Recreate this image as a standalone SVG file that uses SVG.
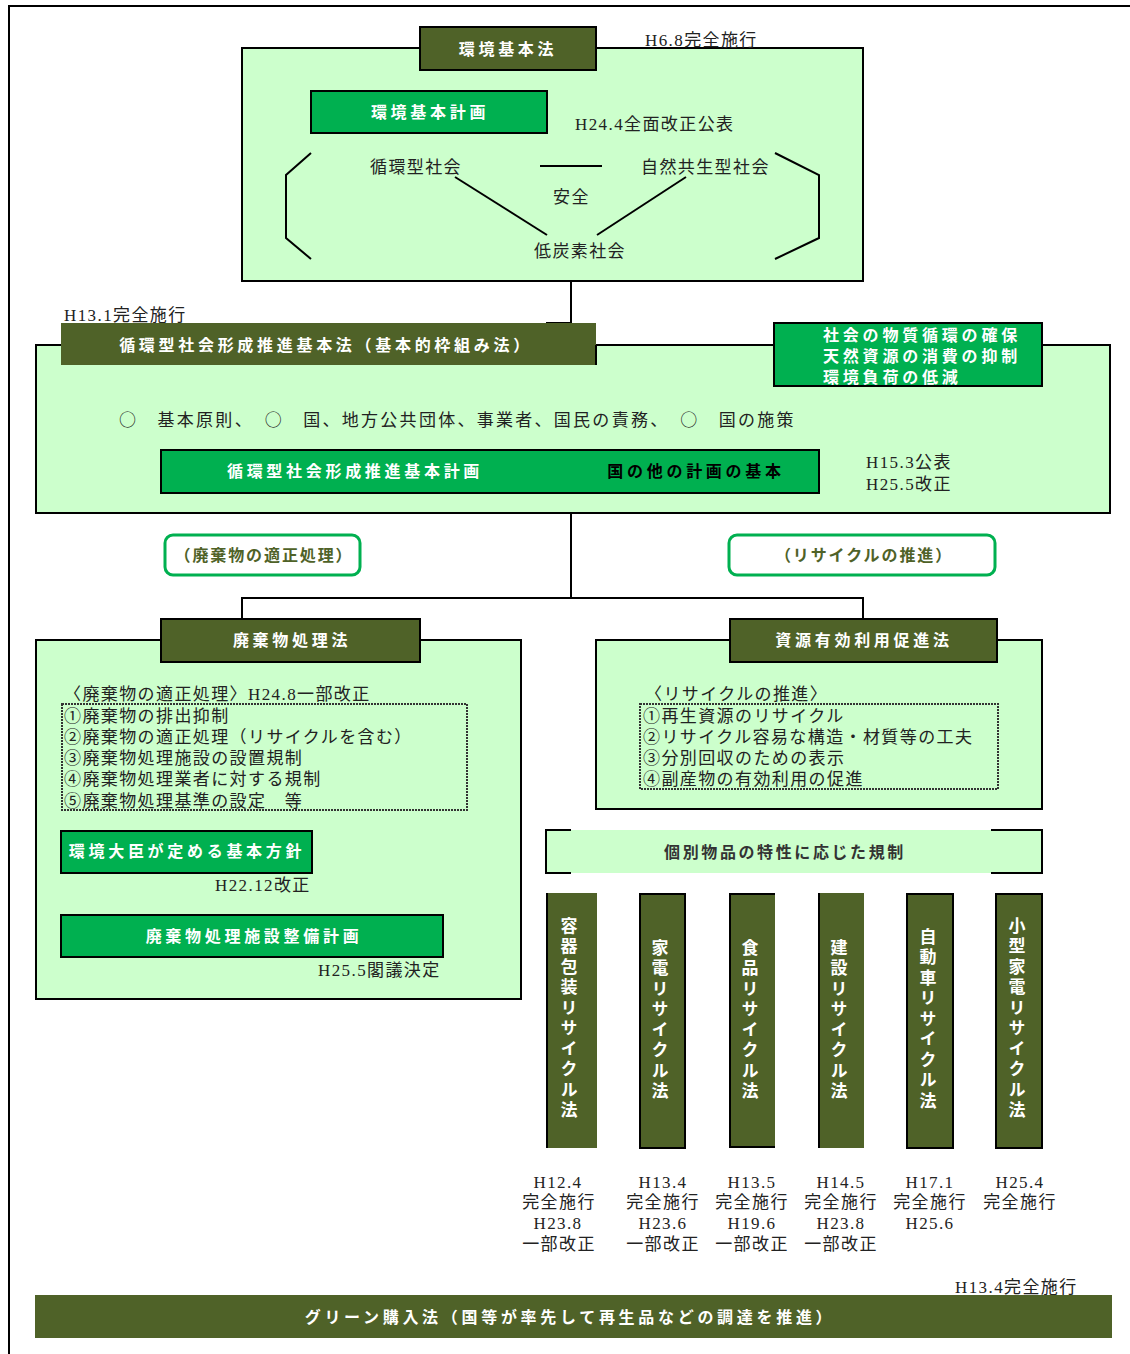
<svg xmlns="http://www.w3.org/2000/svg" width="1130" height="1354" viewBox="0 0 1130 1354">
<defs>
<style>
.t{font-family:"Liberation Serif","Noto Sans CJK JP",serif;font-size:17px;fill:#222;letter-spacing:1.4px}
.c{font-family:"Noto Sans CJK JP","Noto Sans CJK SC",sans-serif}
.tm{text-anchor:middle}
.h{font-family:"Noto Sans CJK JP","Noto Sans CJK SC",sans-serif;font-weight:700;font-size:16px;fill:#fff;letter-spacing:3.7px;text-anchor:middle}
.hl{font-family:"Noto Sans CJK JP","Noto Sans CJK SC",sans-serif;font-weight:700;font-size:16px;fill:#fff;letter-spacing:3.8px}
.v{font-family:"Noto Sans CJK JP","Noto Sans CJK SC",sans-serif;font-weight:700;font-size:17px;fill:#fff;letter-spacing:3.5px;writing-mode:vertical-rl}
.dark{fill:#4F6228;stroke:#000;stroke-width:2}
.darkn{fill:#4F6228}
.green{fill:#00B050;stroke:#000;stroke-width:2}
.light{fill:#CCFFCC;stroke:#000;stroke-width:2}
.lightn{fill:#CCFFCC}
.conn{stroke:#000;stroke-width:2;fill:none}
.dash{fill:none;stroke:#333;stroke-width:2;stroke-dasharray:2 1}
.pill{fill:#fff;stroke:#00B050;stroke-width:3}
</style>
</defs>

<!-- outer frame -->
<g id="frame">
<path class="conn" d="M9,1354 V6 H1130"/>
</g>

<g id="connectors">
<line class="conn" x1="571" y1="281" x2="571" y2="323"/>
<line class="conn" x1="546" y1="323" x2="571" y2="323"/>
<line class="conn" x1="571" y1="513" x2="571" y2="598"/>
<path class="conn" d="M242,619 V598 H863 V619"/>
</g>

<!-- top: 環境基本法 -->
<g id="kankyo-kihonho">
<rect class="light" x="242" y="48" width="621" height="233"/>
<rect class="dark" x="420" y="27" width="176" height="43"/>
<text class="h" x="508" y="55">環境基本法</text>
<text class="t" x="645" y="46">H6.8完全施行</text>
</g>

<g id="kankyo-kihon-keikaku">
<rect class="green" x="311" y="91" width="236" height="42"/>
<text class="h" x="430" y="118">環境基本計画</text>
<text class="t" x="575" y="130">H24.4全面改正公表</text>
</g>

<g id="society-diagram">
<path class="conn" d="M311,153 L286,175 V238 L311,259"/>
<path class="conn" d="M775,153 L819,175 V238 L775,259"/>
<line class="conn" x1="540" y1="166" x2="602" y2="166" stroke-width="1.5"/>
<line class="conn" x1="455" y1="177" x2="547" y2="235" stroke-width="1.5"/>
<line class="conn" x1="686" y1="177" x2="597" y2="235" stroke-width="1.5"/>
<text class="t" x="370" y="173">循環型社会</text>
<text class="t" x="641" y="173">自然共生型社会</text>
<text class="t" x="553" y="203">安全</text>
<text class="t" x="534" y="257">低炭素社会</text>
</g>

<!-- 循環型社会形成推進基本法 -->
<g id="junkan-kihonho">
<rect class="light" x="36" y="345" width="1074" height="168"/>
<rect class="darkn" x="61" y="323" width="535" height="42"/>
<line class="conn" x1="596" y1="345" x2="596" y2="365"/>
<text class="h" x="326" y="351">循環型社会形成推進基本法（基本的枠組み法）</text>
<text class="t" x="64" y="321">H13.1完全施行</text>
<text class="t c" x="119" y="426" textLength="676" lengthAdjust="spacing">○　基本原則、　○　国、地方公共団体、事業者、国民の責務、　○　国の施策</text>
</g>

<g id="junkan-goals">
<rect class="green" x="774" y="323" width="268" height="63"/>
<text class="hl" x="823" y="341">社会の物質循環の確保<tspan x="823" dy="21">天然資源の消費の抑制</tspan><tspan x="823" dy="21">環境負荷の低減</tspan></text>
</g>

<g id="junkan-keikaku">
<rect class="green" x="161" y="450" width="658" height="43"/>
<text class="h" x="355" y="477">循環型社会形成推進基本計画</text>
<text class="h" x="696" y="477" style="fill:#000">国の他の計画の基本</text>
<text class="t" x="866" y="468">H15.3公表</text>
<text class="t" x="866" y="490">H25.5改正</text>
</g>

<!-- labels -->
<g id="label-haikibutsu">
<rect class="pill" x="165" y="535" width="195" height="40" rx="8"/>
<text class="h" x="264" y="561" style="fill:#4F6228;letter-spacing:1.9px">（廃棄物の適正処理）</text>
</g>
<g id="label-recycle">
<rect class="pill" x="729" y="535" width="266" height="40" rx="8"/>
<text class="h" x="864" y="561" style="fill:#4F6228;letter-spacing:1.9px">（リサイクルの推進）</text>
</g>

<!-- 廃棄物処理法 -->
<g id="haikibutsu-shoriho">
<rect class="light" x="36" y="640" width="485" height="359"/>
<rect class="dark" x="161" y="619" width="259" height="43"/>
<text class="h" x="292" y="646">廃棄物処理法</text>
<text class="t" x="64" y="700">〈廃棄物の適正処理〉H24.8一部改正</text>
<rect class="dash" x="62" y="704" width="405" height="106"/>
<text class="t c" x="64" y="722">①廃棄物の排出抑制<tspan x="64" dy="21">②廃棄物の適正処理（リサイクルを含む）</tspan><tspan x="64" dy="21">③廃棄物処理施設の設置規制</tspan><tspan x="64" dy="21">④廃棄物処理業者に対する規制</tspan><tspan x="64" dy="22">⑤廃棄物処理基準の設定　等</tspan></text>
</g>

<g id="kihon-hoshin">
<rect class="green" x="61" y="831" width="251" height="42"/>
<text class="h" x="187" y="857">環境大臣が定める基本方針</text>
<text class="t" x="215" y="891">H22.12改正</text>
</g>

<g id="shisetsu-keikaku">
<rect class="green" x="61" y="915" width="382" height="42"/>
<text class="h" x="254" y="942">廃棄物処理施設整備計画</text>
<text class="t" x="318" y="976">H25.5閣議決定</text>
</g>

<!-- 資源有効利用促進法 -->
<g id="shigen-yuko-riyo">
<rect class="light" x="596" y="640" width="446" height="169"/>
<rect class="dark" x="730" y="619" width="267" height="43"/>
<text class="h" x="864" y="646">資源有効利用促進法</text>
<text class="t" x="645" y="700">〈リサイクルの推進〉</text>
<rect class="dash" x="640" y="704" width="358" height="85"/>
<text class="t c" x="643" y="722">①再生資源のリサイクル<tspan x="643" dy="21">②リサイクル容易な構造・材質等の工夫</tspan><tspan x="643" dy="21">③分別回収のための表示</tspan><tspan x="643" dy="21">④副産物の有効利用の促進</tspan></text>
</g>

<g id="kobetsu-kisei">
<rect class="lightn" x="546" y="830" width="496" height="43"/>
<path class="conn" d="M571,830 H546 V873 H571"/>
<path class="conn" d="M991,830 H1042 V873 H991"/>
<text class="h" x="785" y="858" style="fill:#333;letter-spacing:2.6px">個別物品の特性に応じた規制</text>
</g>

<!-- individual recycling laws -->
<g id="yoki-hoso">
<rect class="darkn" x="546" y="893" width="51" height="255"/>
<line class="conn" x1="547" y1="893" x2="547" y2="1148"/>
<text class="v" x="569" y="917">容器包装リサイクル法</text>
</g>
<g id="kaden">
<rect class="dark" x="640" y="894" width="45" height="254"/>
<text class="v" x="660" y="939">家電リサイクル法</text>
</g>
<g id="shokuhin">
<rect class="darkn" x="729" y="893" width="46" height="255"/>
<path class="conn" d="M775,894 H730 V1147 H775"/>
<text class="v" x="750" y="939">食品リサイクル法</text>
</g>
<g id="kensetsu">
<rect class="darkn" x="818" y="893" width="46" height="255"/>
<line class="conn" x1="819" y1="893" x2="819" y2="1148"/>
<text class="v" x="839" y="939">建設リサイクル法</text>
</g>
<g id="jidosha">
<rect class="dark" x="907" y="894" width="46" height="254"/>
<text class="v" x="928" y="928">自動車リサイクル法</text>
</g>
<g id="kogata-kaden">
<rect class="dark" x="996" y="894" width="46" height="254"/>
<text class="v" x="1017" y="917">小型家電リサイクル法</text>
</g>

<g id="dates">
<text class="t tm" x="558" y="1188">H12.4</text>
<text class="t tm" x="559" y="1208">完全施行</text>
<text class="t tm" x="558" y="1229">H23.8</text>
<text class="t tm" x="559" y="1250">一部改正</text>
<text class="t tm" x="663" y="1188">H13.4</text>
<text class="t tm" x="663" y="1208">完全施行</text>
<text class="t tm" x="663" y="1229">H23.6</text>
<text class="t tm" x="663" y="1250">一部改正</text>
<text class="t tm" x="752" y="1188">H13.5</text>
<text class="t tm" x="752" y="1208">完全施行</text>
<text class="t tm" x="752" y="1229">H19.6</text>
<text class="t tm" x="752" y="1250">一部改正</text>
<text class="t tm" x="841" y="1188">H14.5</text>
<text class="t tm" x="841" y="1208">完全施行</text>
<text class="t tm" x="841" y="1229">H23.8</text>
<text class="t tm" x="841" y="1250">一部改正</text>
<text class="t tm" x="930" y="1188">H17.1</text>
<text class="t tm" x="930" y="1208">完全施行</text>
<text class="t tm" x="930" y="1229">H25.6</text>
<text class="t tm" x="1020" y="1188">H25.4</text>
<text class="t tm" x="1020" y="1208">完全施行</text>
</g>

<g id="green-konyuho">
<rect class="darkn" x="35" y="1295" width="1077" height="43"/>
<text class="h" x="570" y="1323">グリーン購入法（国等が率先して再生品などの調達を推進）</text>
<text class="t" x="955" y="1293">H13.4完全施行</text>
</g>
</svg>
